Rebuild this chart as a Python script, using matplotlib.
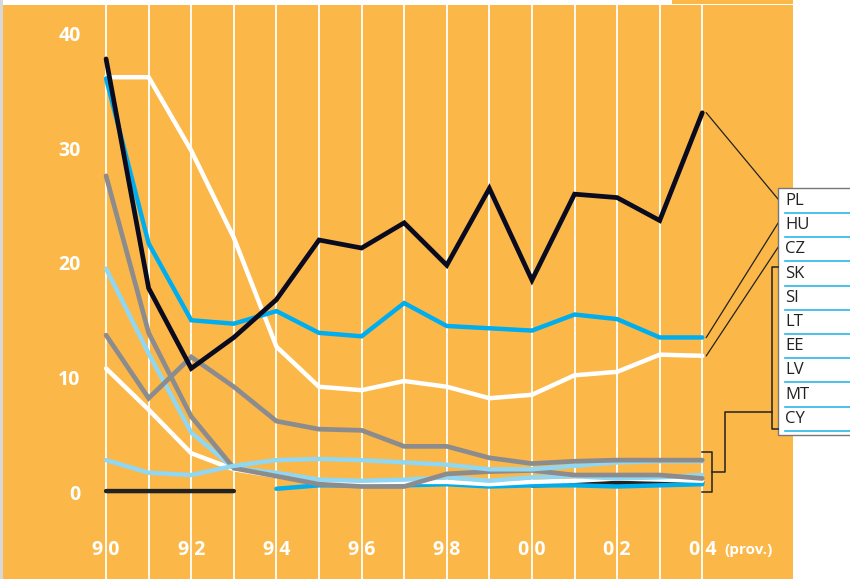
import matplotlib.pyplot as plt
import numpy as np

nan = np.nan

years = list(range(1990, 2005))
year_labels = ["9 0", "9 2", "9 4", "9 6", "9 8", "0 0", "0 2", "0 4"]
y_ticks = [0, 10, 20, 30, 40]
countries = ["PL", "HU", "CZ", "SK", "SI", "LT", "EE", "LV", "MT", "CY"]

pl = [38.0, 18.0, 11.0, 13.7, 17.0, 22.2, 21.5, 23.7, 20.0, 26.7, 18.7, 26.2, 25.9, 23.9, 33.3]
hu = [36.3, 21.9, 15.2, 14.9, 16.0, 14.1, 13.8, 16.7, 14.7, 14.5, 14.3, 15.7, 15.3, 13.7, 13.7]
cz = [36.4, 36.4, 30.0, 22.4, 12.9, 9.4, 9.1, 9.9, 9.4, 8.4, 8.7, 10.4, 10.7, 12.2, 12.1]
sk = [13.9, 8.4, 12.0, 9.4, 6.4, 5.7, 5.6, 4.2, 4.2, 3.2, 2.7, 2.9, 3.0, 3.0, 3.0]
si = [3.0, 1.9, 1.7, 2.5, 3.0, 3.1, 3.0, 2.8, 2.6, 2.2, 2.2, 2.5, 2.8, 2.9, 2.9]
lt = [27.8, 14.1, 6.8, 2.3, 1.6, 0.9, 0.7, 0.7, 1.8, 2.0, 2.1, 1.7, 1.7, 1.7, 1.4]
ee = [19.7, 12.3, 5.4, 2.3, 1.9, 1.3, 1.2, 1.3, 1.5, 1.2, 1.5, 1.6, 1.4, 1.5, 1.7]
lv = [11.0, 7.4, 3.6, 2.2, 1.6, 1.0, 1.0, 1.1, 1.1, 0.9, 1.1, 1.2, 1.4, 1.3, 1.2]
mt = [nan, nan, nan, nan, 0.5, 0.8, 0.8, 0.8, 0.9, 0.7, 0.8, 0.8, 0.7, 0.8, 0.9]
cy = [0.3, 0.3, 0.3, 0.3, nan, nan, nan, nan, nan, nan, 0.8, 0.9, 1.0, 1.0, 1.1]

ORANGE = "#fbb848"
BLUE = "#00aeef"
LBLUE = "#8fd7f3"
GREY = "#8c8c8e"
BLACK = "#0b0b1f"

W, H = 850, 579
fig = plt.figure(figsize=(W / 100, H / 100), dpi=100)
fig.patch.set_facecolor("white")

# orange chart area
ax = fig.add_axes([3 / W, 0, 790 / W, 574 / H])
ax.set_facecolor(ORANGE)
for s in ax.spines.values():
    s.set_visible(False)
ax.set_xticks([])
ax.set_yticks([])
ax.set_xlim(1987.58, 2006.13)
ax.set_ylim(-7.37, 42.7)

for yr in years:
    ax.axvline(yr, color="white", lw=1.3, zorder=1)

# series, bottom to top
series = [
    (cy, "#222222", 3.2),
    (mt, BLUE, 3.2),
    (lv, "white", 3.2),
    (ee, LBLUE, 3.2),
    (lt, GREY, 3.4),
    (si, LBLUE, 3.2),
    (sk, GREY, 3.4),
    (cz, "white", 3.2),
    (hu, BLUE, 3.2),
    (pl, BLACK, 3.4),
]
for vals, col, lw in series:
    ax.plot(years, vals, color=col, lw=lw, solid_capstyle="round",
            solid_joinstyle="miter", zorder=3)

tick_font = dict(family="Open Sans", weight="bold", color="white")
for t in y_ticks:
    ax.text(1989.4, t, str(t), ha="right", va="center", fontsize=14, **tick_font)
for yr, lab in zip(years[::2], year_labels):
    ax.text(yr, -4.85, lab, ha="center", va="center", fontsize=14, **tick_font)
ax.text(2004.52, -4.85, "(prov.)", ha="left", va="center", fontsize=11, **tick_font)

# overlay in pixel coordinates (y up) for legend and connectors
ov = fig.add_axes([0, 0, 1, 1], facecolor="none")
ov.set_xlim(0, W)
ov.set_ylim(0, H)
ov.axis("off")

# top strip and left shadow
ov.add_patch(plt.Rectangle((672, H - 4), 121, 4, color=ORANGE, lw=0))
ov.add_patch(plt.Rectangle((0, 0), 3, H, color="#d8d8d8", lw=0))

# legend box
box_top, row_h = H - 188, 24.2
ov.add_patch(plt.Rectangle((778, box_top - 247), 80, 247, facecolor="white",
                           edgecolor="#777777", lw=1, zorder=5))
for i, c in enumerate(countries):
    yc = box_top - 13 - i * row_h
    ov.text(785, yc, c, ha="left", va="center", fontsize=12,
            family="Open Sans", color="#222222", zorder=6)
    ov.plot([785, 850], [yc - 12, yc - 12], color="#29b6ea", lw=1.2, zorder=6)

fig.canvas.draw()


def end_px(vals):
    x, y = ax.transData.transform((years[-1], vals[-1]))
    return x, y


# connectors from PL, HU, CZ to legend rows
for i, vals in enumerate([pl, hu, cz]):
    x0, y0 = end_px(vals)
    ov.plot([x0 + 4, 778], [y0, box_top - 13 - i * row_h + 2], color="#222222",
            lw=0.9, zorder=4)

# bracket for the low group
lo = [end_px(v)[1] for v in [sk, si, lt, ee, lv, mt, cy]]
b_top, b_bot = max(lo) + 8, min(lo) - 8
bx = 712
ov.plot([702, bx, bx, 702], [b_top, b_top, b_bot, b_bot], color="#222222", lw=1.1, zorder=4)
mid = (b_top + b_bot) / 2
lg_top = box_top - 13 - 3 * row_h + 7
lg_bot = box_top - 13 - 9 * row_h - 10
ov.plot([bx, 725, 725, 772], [mid, mid, lg_bot + 17, lg_bot + 17],
        color="#222222", lw=1.1, zorder=4)
ov.plot([778, 772, 772, 778], [lg_top, lg_top, lg_bot, lg_bot], color="#222222", lw=1.1, zorder=6)

fig.savefig("out.png", dpi=100)
